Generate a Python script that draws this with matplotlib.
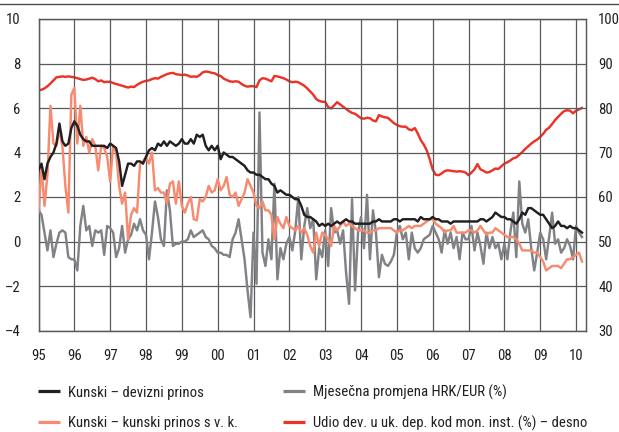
import matplotlib
matplotlib.use("Agg")
import matplotlib.pyplot as plt
from matplotlib.lines import Line2D
from matplotlib import font_manager as fm
import numpy as np

_names = {f.name for f in fm.fontManager.ttflist}
if 'Liberation Sans Narrow' in _names:
    FAMILY, FS = 'Liberation Sans Narrow', 10.5
elif 'Roboto Condensed' in _names:
    FAMILY, FS = 'Roboto Condensed', 10.6
else:
    FAMILY, FS = 'Liberation Sans', 9.6
plt.rcParams['font.family'] = [FAMILY, 'DejaVu Sans']

start_year = 1995
year_labels = ['95', '96', '97', '98', '99', '00', '01', '02', '03', '04',
               '05', '06', '07', '08', '09', '10']
left_ticks = [-4, -2, 0, 2, 4, 6, 8, 10]
right_ticks = [30, 40, 50, 60, 70, 80, 90, 100]

label_black = 'Kunski – devizni prinos'
label_gray = 'Mjesečna promjena HRK/EUR (%)'
label_salmon = 'Kunski – kunski prinos s v. k.'
label_red = 'Udio dev. u uk. dep. kod mon. inst. (%) – desno'

# monthly values, Jan 1995 .. Mar 2010
kunski_devizni = [
    3.2, 3.5, 2.8, 3.5, 3.8, 4.0, 4.4, 5.3, 4.5, 4.3, 4.4, 5.1,
    5.4, 5.2, 4.8, 4.6, 4.5, 4.5, 4.3, 4.3, 4.3, 4.3, 4.3, 4.2,
    4.4, 4.3, 4.2, 3.6, 2.5, 3.0, 3.5, 3.5, 3.4, 3.6, 3.6, 3.5,
    3.8, 4.1, 4.2, 4.1, 4.4, 4.3, 4.5, 4.3, 4.5, 4.4, 4.3, 4.4,
    4.6, 4.4, 4.4, 4.6, 4.4, 4.8, 4.7, 4.8, 4.3, 4.1, 4.3, 4.1,
    4.3, 3.7, 4.0, 3.9, 3.8, 3.8, 3.7, 3.6, 3.5, 3.4, 3.2, 3.1,
    3.1, 3.0, 3.0, 2.9, 2.8, 2.8, 2.6, 2.5, 2.2, 2.3, 2.2, 2.1,
    2.1, 2.0, 1.9, 1.9, 1.6, 1.2, 1.1, 1.1, 1.0, 0.9, 0.7, 0.8,
    0.7, 0.8, 0.7, 0.8, 0.9, 0.8, 0.9, 1.0, 0.9, 0.9, 0.8, 0.8,
    0.8, 0.8, 0.8, 0.8, 0.9, 0.9, 1.0, 0.9, 0.9, 0.9, 0.9, 1.0,
    1.0, 0.9, 1.0, 1.0, 1.0, 1.0, 1.0, 0.9, 1.1, 1.0, 1.0, 1.0,
    1.1, 1.0, 1.0, 0.9, 0.9, 0.9, 0.8, 0.9, 0.9, 0.9, 0.9, 0.9,
    0.9, 0.9, 0.9, 0.9, 1.0, 1.0, 0.9, 1.0, 1.1, 1.3, 1.2, 1.1,
    1.1, 1.0, 1.0, 0.9, 0.8, 1.0, 1.3, 1.2, 1.5, 1.5, 1.4, 1.3,
    1.2, 1.2, 1.0, 0.8, 0.6, 0.7, 0.9, 0.7, 0.7, 0.6, 0.7, 0.6,
    0.6, 0.5, 0.4,
]

promjena_hrk_eur = [
    1.4, 1.2, 0.4, -0.4, 0.5, -0.7, -0.1, 0.4, 0.5, 0.4, -0.7, -0.8,
    -0.8, -1.3, 0.7, 1.6, 0.5, 0.7, -0.2, 0.5, 0.4, 0.5, -0.6, 0.7,
    0.6, 0.4, -0.7, -0.3, 0.7, -0.5, 0.1, 0.3, 0.8, 0.5, 1.0, 0.5,
    0.3, -0.8, 0.4, 1.8, 1.1, 0.1, -0.2, 2.3, 1.4, -0.2, -0.1, -0.1,
    0.0, 0.0, 0.1, 0.5, 0.2, 0.3, 0.4, 0.5, 0.2, 0.1, -0.2, -0.3,
    -0.5, -0.5, -0.6, -0.6, -0.7, 0.1, 0.4, 1.0, 0.1, -0.8, -2.2, -3.4,
    0.4, -1.9, 5.8, -0.5, -1.1, 0.1, -0.8, 2.6, -1.7, -0.3, -0.8, -0.1,
    0.2, -0.4, 0.5, 2.0, -0.8, 0.7, 1.5, 0.6, 1.0, -1.7, -0.3, -0.7,
    0.5, -1.1, 1.5, 0.4, 0.5, -0.1, 0.5, -1.4, -2.8, 1.9, -2.2, 0.4,
    1.1, -0.3, 2.1, -0.8, 1.4, 0.4, -1.6, -0.6, -1.0, -1.1, -0.9, -0.6,
    0.4, 0.7, 0.1, 0.4, -0.8, 0.4, -0.3, -0.5, -0.3, 0.1, 0.2, 0.3,
    0.7, 0.4, 0.1, -0.5, 0.5, -0.1, 0.4, -0.3, 0.2, -0.8, 0.4, 0.1,
    0.1, 0.7, -0.4, 0.4, -0.2, -1.0, 0.4, -0.3, 0.2, -0.3, -0.1, -0.8,
    -0.1, -0.8, 0.4, 1.3, -0.7, 2.7, 0.8, 0.4, 1.0, -0.3, -1.3, -0.5,
    0.4, 0.1, -0.8, 0.2, 1.3, -0.1, 0.1, -0.5, -0.3, 0.1, -0.2, -0.8,
    0.7, 0.4, 0.2,
]

kunski_kunski = [
    1.4, 3.3, 1.6, 3.0, 6.1, 4.4, 4.3, 5.0, 4.3, 2.5, 1.3, 6.6,
    6.9, 4.4, 6.1, 4.3, 4.7, 4.0, 4.6, 4.3, 3.2, 4.3, 4.2, 3.8,
    2.7, 4.3, 4.0, 2.5, 1.7, 2.2, 0.1, 1.2, 1.5, 1.3, 3.5, 3.6,
    3.8, 3.5, 4.0, 2.3, 2.4, 2.2, 2.2, 1.7, 2.6, 2.7, 1.7, 2.7,
    1.6, 1.3, 1.7, 2.0, 1.0, 0.95, 1.9, 1.8, 2.0, 2.5, 2.2, 2.3,
    2.8, 2.3, 2.5, 2.9, 2.1, 2.0, 2.2, 1.6, 1.9, 2.2, 2.8, 2.5,
    2.2, 1.6, 1.5, 1.8, 1.4, 1.4, 1.2, 0.1, 1.1, 0.8, 0.6, 1.1,
    0.7, 0.6, 0.5, 0.7, 0.4, 0.6, 0.3, -0.2, -0.5, 0.4, -0.2, 0.4,
    0.3, 0.1, -0.2, 0.7, 0.5, 0.7, 0.9, 0.7, 0.8, 0.7, 0.6, 0.5,
    0.5, 0.5, 0.4, 0.4, 0.5, 0.5, 0.6, 0.6, 0.6, 0.6, 0.6, 0.5,
    0.4, 0.5, 0.5, 0.6, 0.7, 0.6, 0.7, 0.7, 0.7, 0.8, 0.9, 1.0,
    1.0, 0.8, 0.7, 0.6, 0.4, 0.5, 0.5, 0.7, 0.4, 0.4, 0.4, 0.4,
    0.5, 0.5, 0.4, 0.5, 0.7, 0.5, 0.3, 0.4, 0.4, 0.6, 0.5, 0.4,
    0.3, 0.2, 0.2, 0.2, 0.1, -0.1, -0.4, -0.4, -0.4, -0.4, -0.5, -0.5,
    -0.7, -0.9, -1.3, -1.2, -1.1, -1.1, -1.1, -1.2, -1.0, -0.8, -0.8, -0.7,
    -0.6, -0.5, -0.9,
]

udio_dev_desno = [
    84.0, 84.1, 84.4, 84.9, 85.5, 86.2, 86.9, 87.0, 87.1, 87.0, 87.1, 87.0,
    86.9, 86.7, 86.5, 86.3, 86.4, 86.6, 86.8, 86.5, 86.0, 86.2, 85.8, 85.9,
    85.9, 85.6, 85.4, 85.2, 85.0, 84.8, 84.6, 84.8, 84.7, 85.2, 85.6, 85.9,
    86.1, 86.2, 86.5, 86.7, 86.6, 87.0, 87.3, 87.6, 87.8, 87.9, 87.6, 87.5,
    87.4, 87.5, 87.3, 87.0, 87.1, 87.0, 87.4, 88.0, 88.2, 88.1, 87.9, 87.8,
    87.4, 87.2, 86.6, 86.3, 86.0, 85.9, 86.0, 85.9, 85.4, 85.0, 84.8, 84.9,
    84.9, 84.7, 86.2, 86.7, 86.6, 86.3, 86.0, 87.2, 87.1, 86.9, 86.7, 86.4,
    86.0, 85.8, 85.9, 85.8, 85.4, 85.0, 84.4, 83.7, 83.0, 82.0, 81.6, 81.4,
    81.4, 80.2, 79.9, 80.6, 81.3, 80.8, 80.3, 79.8, 79.3, 78.9, 78.7, 78.2,
    77.7, 77.6, 77.8, 77.7, 77.2, 77.0, 78.4, 78.1, 77.9, 77.8, 77.2, 76.6,
    76.2, 75.9, 75.8, 75.8, 75.2, 75.0, 75.5, 74.3, 72.8, 71.8, 70.5, 68.5,
    66.2, 65.0, 64.9, 65.3, 65.8, 66.0, 65.9, 65.8, 65.7, 65.8, 65.7, 65.5,
    64.9, 65.5, 66.2, 67.4, 66.2, 65.9, 65.5, 65.6, 66.0, 66.4, 66.3, 66.9,
    67.5, 67.8, 68.2, 68.7, 68.9, 69.5, 70.1, 70.8, 71.4, 72.0, 72.5, 72.9,
    73.5, 74.2, 75.1, 75.6, 76.4, 77.3, 78.0, 78.7, 79.3, 79.5, 79.4, 78.8,
    79.4, 79.7, 80.0,
]

c_black = '#231f20'
c_gray = '#818285'
c_salmon = '#f68b70'
c_red = '#ec3327'
c_grid = '#58595b'
c_text = '#231f20'

W, H = 619, 432
fig = plt.figure(figsize=(W / 100, H / 100), dpi=100)
ax_l, ax_r, ax_t, ax_b = 38.5, 585.7, 19.0, 330.5
ax = fig.add_axes([ax_l / W, 1 - ax_b / H, (ax_r - ax_l) / W, (ax_b - ax_t) / H])

x = start_year + np.arange(len(kunski_devizni)) / 12.0
xg = start_year + np.arange(len(promjena_hrk_eur)) / 12.0
xs = start_year + np.arange(len(kunski_kunski)) / 12.0
xr = start_year + np.arange(len(udio_dev_desno)) / 12.0

ax2 = ax.twinx()
ax.set_zorder(ax2.get_zorder() + 1)
ax.patch.set_visible(False)

lw = 1.75
h_gray, = ax.plot(xg, promjena_hrk_eur, color=c_gray, lw=lw, label=label_gray, zorder=3)
h_salmon, = ax.plot(xs, kunski_kunski, color=c_salmon, lw=lw, label=label_salmon, zorder=4)
h_black, = ax.plot(x, kunski_devizni, color=c_black, lw=lw, label=label_black, zorder=5)
h_red, = ax2.plot(xr, udio_dev_desno, color=c_red, lw=lw, label=label_red, zorder=3)

ax.set_xlim(1995, 2010.27)
ax.set_ylim(-4, 10)
ax2.set_ylim(30, 100)

years = [start_year + i for i in range(len(year_labels))]
ax.set_xticks(years)
ax.set_xticklabels(year_labels)
ax.set_yticks(left_ticks)
ax.set_yticklabels([str(v).replace('-', '\u2013') for v in left_ticks])
ax2.set_yticks(right_ticks)
ax2.set_yticklabels([str(v) for v in right_ticks])

ax.tick_params(axis='both', length=0, labelsize=FS, colors=c_text)
ax.tick_params(axis='x', pad=13)
ax.tick_params(axis='y', pad=13)
ax2.tick_params(axis='y', length=0, labelsize=FS, colors=c_text, pad=9)

ax.grid(True, color=c_grid, lw=0.9, zorder=0)
ax.set_axisbelow(True)
for a in (ax, ax2):
    for s in a.spines.values():
        s.set_color(c_grid)
        s.set_linewidth(0.9)

# top rule
fig.add_artist(Line2D([0, 1], [1 - 4.3 / H, 1 - 4.3 / H], transform=fig.transFigure,
                      color='#4d4d4f', lw=1.0))

# legend, two columns placed in figure pixels
legend_items = [
    (h_black, label_black, 38, 391),
    (h_gray, label_gray, 283, 391),
    (h_salmon, label_salmon, 38, 422),
    (h_red, label_red, 283, 422),
]
for handle, text, px, py in legend_items:
    yf = 1 - py / H
    fig.add_artist(Line2D([px / W, (px + 22) / W], [yf, yf], transform=fig.transFigure,
                          color=handle.get_color(), lw=2.3, solid_capstyle='butt'))
    fig.text((px + 30) / W, yf, text, ha='left', va='center_baseline',
             fontsize=FS, color=c_text)

fig.savefig('out.png', dpi=100)
